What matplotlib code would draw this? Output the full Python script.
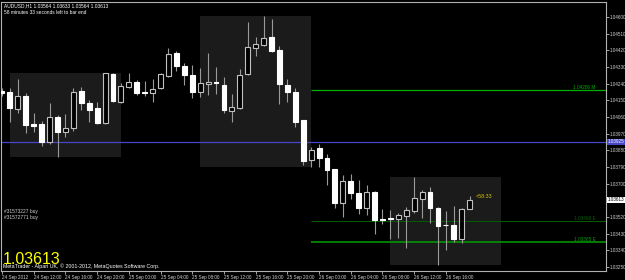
import matplotlib
matplotlib.use("Agg")
import matplotlib.pyplot as plt
from matplotlib.patches import Rectangle

plt.rcParams['font.family'] = ['Liberation Sans', 'DejaVu Sans']

# AUDUSD H1 bars, 24 Sep 08:00 .. 26 Sep 19:00
opens = [1.04200, 1.04195, 1.04103, 1.04173, 1.04022, 1.04022, 1.03925, 1.04060, 1.03979, 1.04001,
         1.04200, 1.04136, 1.04109, 1.04028, 1.04292, 1.04141, 1.04222, 1.04249, 1.04195, 1.04190,
         1.04217, 1.04281, 1.04406, 1.04335, 1.04287, 1.04195, 1.04238, 1.04249, 1.04233, 1.04092,
         1.04109, 1.04292, 1.04433, 1.04449, 1.04492, 1.04422, 1.04233, 1.04195, 1.04044, 1.03828,
         1.03893, 1.03839, 1.03779, 1.03596, 1.03714, 1.03650, 1.03569, 1.03655, 1.03509, 1.03512,
         1.03509, 1.03526, 1.03552, 1.03617, 1.03655, 1.03569, 1.03477, 1.03477, 1.03401, 1.03564]
highs = [1.04217, 1.04217, 1.04265, 1.04190, 1.04082, 1.04038, 1.04136, 1.04071, 1.04076, 1.04217,
         1.04222, 1.04152, 1.04141, 1.04298, 1.04298, 1.04244, 1.04298, 1.04260, 1.04254, 1.04265,
         1.04298, 1.04433, 1.04416, 1.04352, 1.04341, 1.04325, 1.04406, 1.04330, 1.04276, 1.04184,
         1.04319, 1.04573, 1.04492, 1.04605, 1.04589, 1.04443, 1.04265, 1.04217, 1.04044, 1.03898,
         1.03914, 1.03860, 1.03779, 1.03747, 1.03752, 1.03720, 1.03693, 1.03660, 1.03563, 1.03558,
         1.03542, 1.03574, 1.03736, 1.03666, 1.03682, 1.03574, 1.03552, 1.03579, 1.03569, 1.03633]
lows = [1.04173, 1.04033, 1.04082, 1.03974, 1.03979, 1.03903, 1.03914, 1.03844, 1.03952, 1.03984,
        1.04098, 1.04033, 1.04022, 1.04022, 1.04141, 1.04136, 1.04217, 1.04179, 1.04173, 1.04141,
        1.04211, 1.04276, 1.04308, 1.04233, 1.04163, 1.04168, 1.04179, 1.04184, 1.04082, 1.04033,
        1.04103, 1.04287, 1.04389, 1.04443, 1.04411, 1.04130, 1.04141, 1.04006, 1.03801, 1.03790,
        1.03790, 1.03693, 1.03569, 1.03520, 1.03617, 1.03536, 1.03531, 1.03428, 1.03482, 1.03401,
        1.03407, 1.03353, 1.03542, 1.03515, 1.03488, 1.03261, 1.03342, 1.03385, 1.03380, 1.03564]
closes = [1.04190, 1.04109, 1.04173, 1.04017, 1.04011, 1.03925, 1.04060, 1.03979, 1.04001, 1.04195,
          1.04136, 1.04098, 1.04028, 1.04298, 1.04146, 1.04227, 1.04249, 1.04190, 1.04190, 1.04211,
          1.04292, 1.04400, 1.04335, 1.04287, 1.04195, 1.04244, 1.04249, 1.04244, 1.04098, 1.04114,
          1.04287, 1.04438, 1.04454, 1.04487, 1.04416, 1.04238, 1.04195, 1.04033, 1.03822, 1.03882,
          1.03839, 1.03774, 1.03596, 1.03714, 1.03650, 1.03569, 1.03655, 1.03504, 1.03504, 1.03507,
          1.03531, 1.03558, 1.03623, 1.03655, 1.03569, 1.03471, 1.03474, 1.03401, 1.03563, 1.03613]

time_labels = ["24 Sep 2012", "24 Sep 12:00", "24 Sep 16:00", "24 Sep 20:00", "25 Sep 00:00",
               "25 Sep 04:00", "25 Sep 08:00", "25 Sep 12:00", "25 Sep 16:00", "25 Sep 20:00",
               "26 Sep 00:00", "26 Sep 04:00", "26 Sep 08:00", "26 Sep 12:00", "26 Sep 16:00"]
price_ticks = [1.04600, 1.04510, 1.04420, 1.04330, 1.04240, 1.04150, 1.04060, 1.03970,
               1.03880, 1.03790, 1.03700, 1.03520, 1.03430, 1.03340, 1.03250]

session_starts = [1, 25, 49]     # session boxes, 14 bars wide
session_len = 14
level_start = 39
levels = [(1.04206, "1.04206 M", '#00b000', 0.9),
          (1.03498, "1.03498 E", '#006000', 0.7),
          (1.03385, "1.03385 E", '#00a000', 1.1)]
blue_level = 1.03925
orders = ["#31573227 buy", "#31572771 buy"]

fig = plt.figure(figsize=(6.25, 2.8), dpi=100, facecolor='black')
ax = fig.add_axes([1 / 625, 9 / 280, 605 / 625, 269 / 280])
ax.set_facecolor('black')

n = len(closes)
xs = list(range(n))

# session boxes
for s in session_starts:
    e = min(s + session_len, n - 1)
    hi = max(highs[s:e + 1])
    lo = min(lows[s:e + 1])
    ax.add_patch(Rectangle((s, lo), session_len, hi - lo, facecolor='#1b1b1b',
                           edgecolor='none', zorder=0))

# horizontal levels
ax.axhline(blue_level, color='#4646c8', lw=0.9, zorder=1)
for val, lab, col, lw in levels:
    ax.hlines(val, level_start, 80, color=col, lw=lw, zorder=1)
    ax.text(0.983, val + 0.00002, lab, transform=ax.get_yaxis_transform(), color=col,
            fontsize=3.4, ha='right', va='bottom')

# candles
ax.vlines(xs, lows, highs, color='#9a9a9a', lw=0.8, zorder=2)
bull = [c >= o for o, c in zip(opens, closes)]
bottoms = [min(o, c) for o, c in zip(opens, closes)]
heights = [abs(c - o) for o, c in zip(opens, closes)]
ax.bar(xs, heights, bottom=bottoms, width=0.62,
       color=['black' if b else 'white' for b in bull],
       edgecolor=['#c0c0c0' if b else 'white' for b in bull], lw=0.8, zorder=3)

ax.set_xlim(-0.13, 76.2)
ax.set_ylim(1.03228, 1.04681)

ax.set_xticks(list(range(0, 4 * len(time_labels), 4)))
ax.set_xticklabels(time_labels, ha='left')
ax.yaxis.tick_right()
ax.set_yticks(price_ticks)
ax.set_yticklabels([f"{p:.5f}" for p in price_ticks])
ax.tick_params(axis='both', colors='#c0c0c0', labelsize=3.3, length=2, width=0.6, pad=0.8)
ax.tick_params(axis='x', labelcolor='#d0d0d0')
ax.tick_params(axis='y', labelcolor='#d0d0d0')
for sp in ax.spines.values():
    sp.set_color('#b0b0b0')
    sp.set_linewidth(0.8)

# price tags on the axis
ytr = ax.get_yaxis_transform()
ax.text(1.003, closes[-1], f"{closes[-1]:.5f}", transform=ytr, fontsize=3.3, color='black',
        va='center', ha='left', clip_on=False,
        bbox=dict(boxstyle='square,pad=0.15', fc='white', ec='none'))
ax.text(1.003, blue_level, f"{blue_level:.5f}", transform=ytr, fontsize=3.3, color='white',
        va='center', ha='left', clip_on=False,
        bbox=dict(boxstyle='square,pad=0.15', fc='#4646c8', ec='none'))

# timer next to last bar
ax.text(n - 1 + 0.8, highs[-1], "<58:33", color='#d8c800', fontsize=3.8, va='center', ha='left')

# header and footer texts
fig.text(4 / 625, 1 - 6 / 280,
         f"AUDUSD,H1 {opens[-1]:.5f} {highs[-1]:.5f} {lows[-1]:.5f} {closes[-1]:.5f}",
         color='white', fontsize=3.5, va='center')
fig.text(4 / 625, 1 - 12 / 280, "58 minutes 33 seconds left to bar end",
         color='white', fontsize=3.5, va='center')
for i, o in enumerate(orders):
    fig.text(4 / 625, 1 - (211 + 7 * i) / 280, o, color='#d0d0d0', fontsize=3.5, va='center')
fig.text(3 / 625, 1 - 260 / 280, f"{closes[-1]:.5f}", color='#ffff00', fontsize=11.5,
         va='center')
fig.text(3 / 625, 1 - 266 / 280, "MetaTrader - Alpari UK, \u00a9 2001-2012, MetaQuotes Software Corp.",
         color='white', fontsize=3.8, va='center')

fig.savefig("out.png", dpi=100, facecolor='black')
